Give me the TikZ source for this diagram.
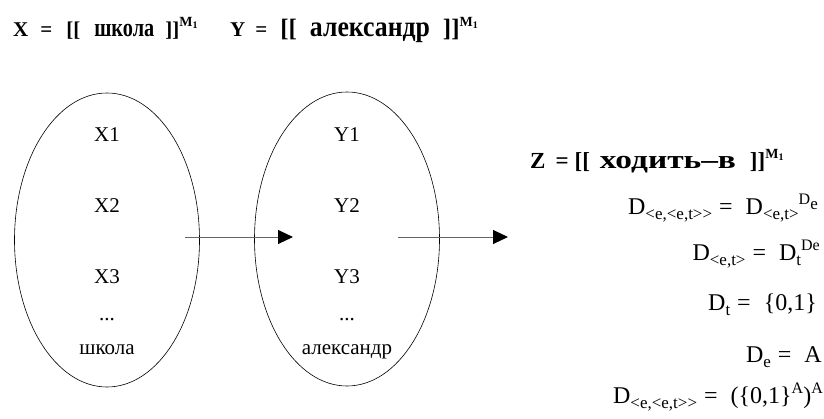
\documentclass[tikz,border=0pt]{standalone}
\usepackage{fontspec}
\usepackage{graphicx}
\setmainfont{Liberation Serif}
\usetikzlibrary{arrows.meta,shapes.geometric}
% sub- and superscripts of the domain lines
\newcommand{\lo}[1]{\raisebox{-5pt}{\fontsize{17}{17}\selectfont #1}}
\newcommand{\hi}[1]{\raisebox{10pt}{\fontsize{16}{16}\selectfont #1}}
\newcommand{\Mone}{\raisebox{10pt}{\fontsize{14}{14}\selectfont M\raisebox{-2pt}{\fontsize{10}{10}\selectfont 1}}}
\newcommand{\cyr}[3]{{\fontsize{#1}{#1}\selectfont\resizebox{#2}{\height}{#3}}}
\newcommand{\gap}[1]{\hspace{#1pt}}
\tikzset{
  elem/.style={anchor=base,font=\fontsize{21}{21}\selectfont,inner sep=0pt},
  setov/.style={draw,ellipse,line width=0.6pt,minimum width=185pt,minimum height=294pt,inner sep=0pt},
  mapto/.style={draw=black!60,line width=1pt,-{Triangle[length=15pt,width=14pt,black]}},
  deq/.style={anchor=base east,font=\fontsize{24}{24}\selectfont,inner sep=0pt},
  ttl/.style={anchor=base west,inner sep=0pt,font=\bfseries\fontsize{21}{21}\selectfont}
}
\begin{document}
\begin{tikzpicture}[x=1pt,y=-1pt]
    \useasboundingbox (0,0) rectangle (824,418);
    % titles
    \node[ttl] (titX) at (13,36)
        {X\gap{12}=\gap{14}[[\gap{14}\cyr{26}{60pt}{школа}\gap{11}]]\Mone};
    \node[ttl] (titY) at (230,36)
        {Y\gap{10}=\gap{13}{\fontsize{25}{25}\selectfont[[}\gap{13}\cyr{29}{120pt}{александр}\gap{13}{\fontsize{25}{25}\selectfont]]}\Mone};
    % sets
    \node[setov] (setX) at (107,240) {};
    \node[setov] (setY) at (347,239) {};
    \foreach \lab/\yy in {1/141,2/212,3/283} {
        \node[elem] (x\lab) at (107,\yy) {X\lab};
        \node[elem] (y\lab) at (347,\yy) {Y\lab};
    }
    \node[elem] (xdots) at (107,320) {...};
    \node[elem] (ydots) at (347,320) {...};
    \node[elem] (xlast) at (107,354) {школа};
    \node[elem] (ylast) at (347,354) {александр};
    % mappings
    \coordinate (m1s) at (185,237);
    \coordinate (m1e) at (293,237);
    \coordinate (m2s) at (398,237);
    \coordinate (m2e) at (508,237);
    \draw[mapto] (m1s) -- (m1e);
    \draw[mapto] (m2s) -- (m2e);
    % relation and domains
    \node[ttl,font=\bfseries\fontsize{23}{23}\selectfont] (titZ) at (530,168)
        {Z\gap{10}=\gap{6}[[\gap{10}\cyr{26}{136pt}{ходить\textendash в}\gap{14}]]\Mone};
    \node[deq] (d1) at (818,214) {D\lo{<e,<e,t>{}>}\gap{7}=\gap{13}D\lo{<e,t>}\hi{D\lo{e}}};
    \node[deq] (d2) at (820,260) {D\lo{<e,t>}\gap{7}=\gap{13}D\lo{t}\hi{De}};
    \node[deq] (d3) at (817,310) {D\lo{t}\gap{7}=\gap{13}\{0,1\}};
    \node[deq] (d4) at (822,362) {D\lo{e}\gap{7}=\gap{13}A};
    \node[deq] (d5) at (823,403) {D\lo{<e,<e,t>{}>}\gap{7}=\gap{13}(\{0,1\}\hi{A})\hi{A}};
\end{tikzpicture}
\end{document}
